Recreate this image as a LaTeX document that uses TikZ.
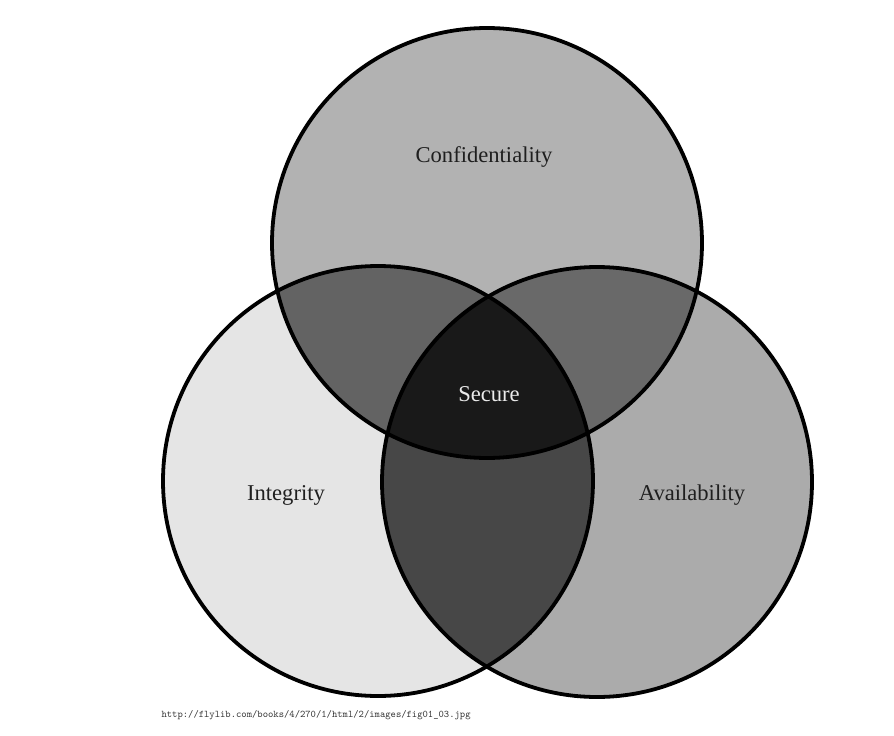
\documentclass[tikz,border=0pt]{standalone}
\usepackage{fontspec}
\setmainfont{Liberation Serif}
\begin{document}
\begin{tikzpicture}[x=1pt,y=-1pt,
  ring/.style={draw=black,line width=3.8pt},
  label/.style={font=\fontsize{22.6}{26}\selectfont,text=black!88},
  urltext/.style={font=\fontfamily{lmtt}\fontsize{10.15}{12}\selectfont,anchor=west,text=black!80}]
\useasboundingbox (0,0) rectangle (894,736);
\def\rad{215}
\coordinate (C) at (487,243);
\coordinate (I) at (378,481);
\coordinate (A) at (597,482);
% single regions
\fill[black!30] (C) circle (\rad);
\fill[black!10] (I) circle (\rad);
\fill[black!33] (A) circle (\rad);
% pairwise overlaps
\begin{scope}
  \clip (C) circle (\rad);
  \fill[black!61] (I) circle (\rad);
\end{scope}
\begin{scope}
  \clip (C) circle (\rad);
  \fill[black!59] (A) circle (\rad);
\end{scope}
\begin{scope}
  \clip (I) circle (\rad);
  \fill[black!72] (A) circle (\rad);
\end{scope}
% triple overlap
\begin{scope}
  \clip (C) circle (\rad);
  \clip (I) circle (\rad);
  \fill[black!90] (A) circle (\rad);
\end{scope}
% outlines
\draw[ring] (C) circle (\rad);
\draw[ring] (I) circle (\rad);
\draw[ring] (A) circle (\rad);
% labels
\node[label] (conf) at (484,157) {Confidentiality};
\node[label] (integ) at (286,495) {Integrity};
\node[label] (avail) at (692,495) {Availability};
\node[label,text=black!8] (sec) at (489,394) {Secure};
\node[urltext] (src) at (158,715) {http://flylib.com/books/4/270/1/html/2/images/fig01\_03.jpg};
\end{tikzpicture}
\end{document}
